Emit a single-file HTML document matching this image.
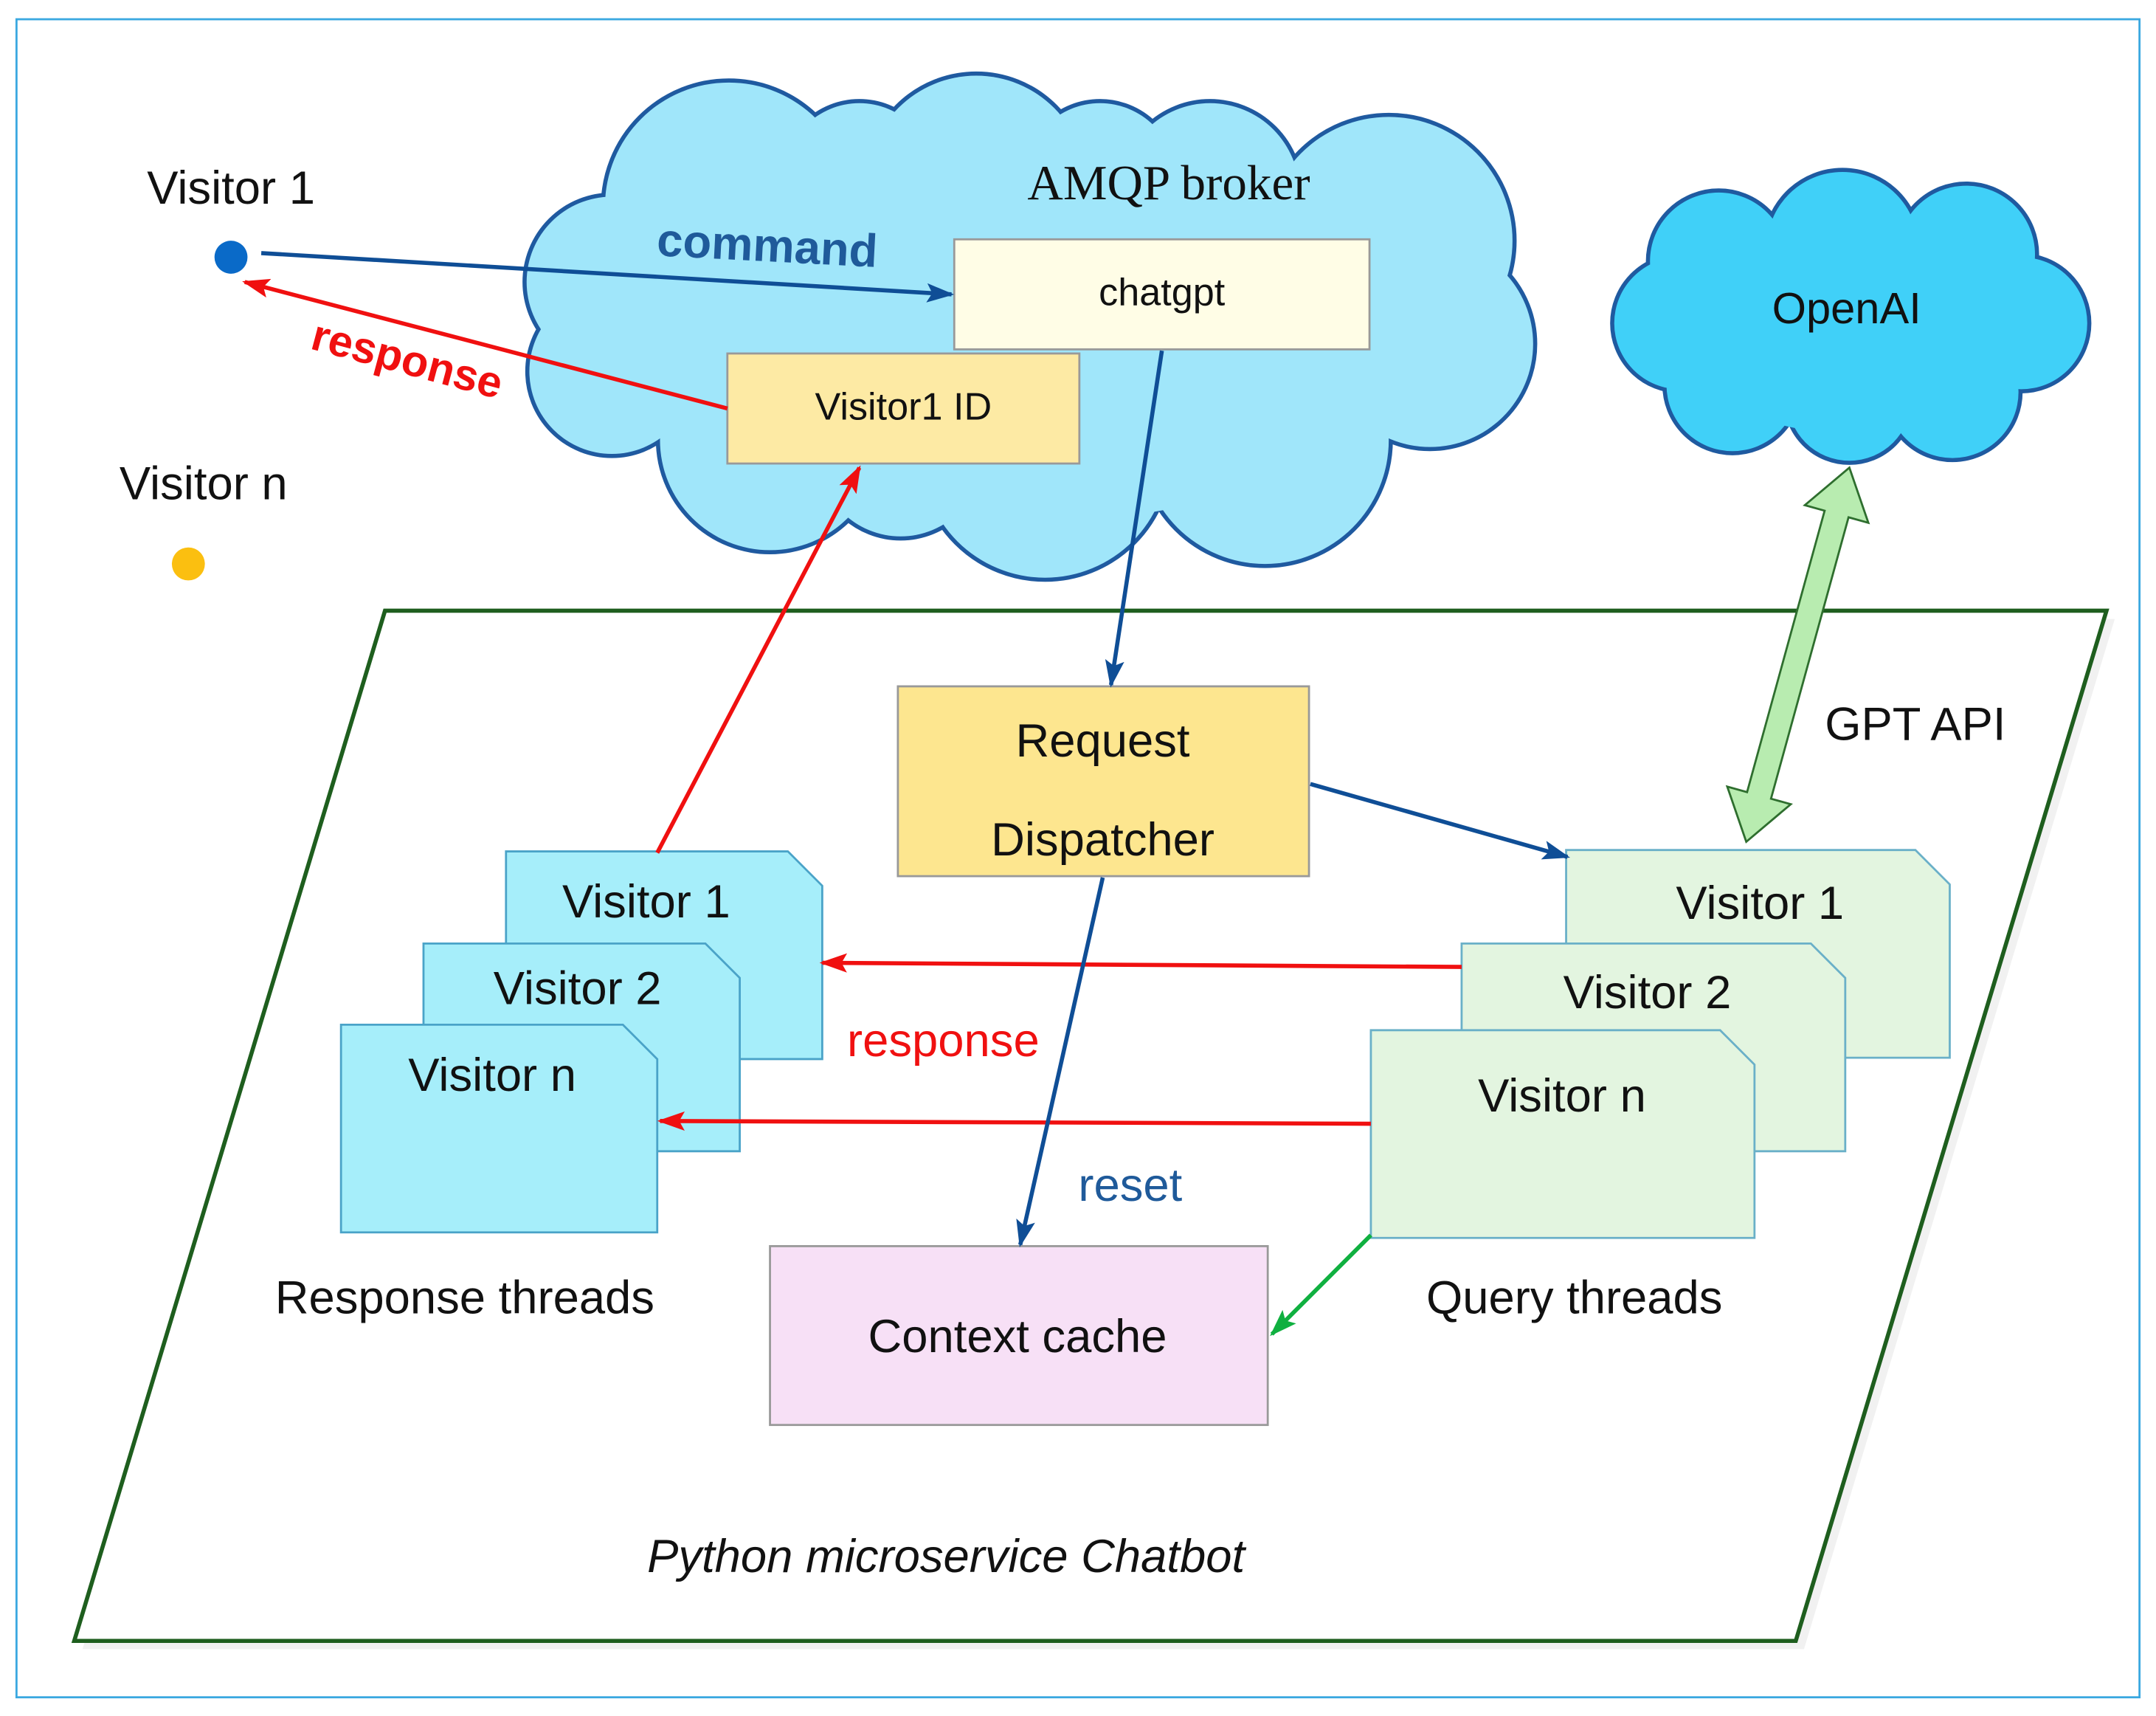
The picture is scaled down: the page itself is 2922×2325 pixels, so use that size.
<!DOCTYPE html>
<html><head><meta charset="utf-8"><style>html,body{margin:0;padding:0;background:#fff}svg{display:block}</style></head>
<body>
<svg width="2922" height="2325" viewBox="0 0 1568 1247.6" preserveAspectRatio="none" xmlns="http://www.w3.org/2000/svg" font-family="Liberation Sans, sans-serif">
<defs>
<marker id="ab" markerWidth="20" markerHeight="14" refX="18" refY="7" orient="auto" markerUnits="userSpaceOnUse" viewBox="0 0 20 14"><path d="M0,0 L20,7 L0,14 L4,7 z" fill="#0f4e96"/></marker>
<marker id="ar" markerWidth="20" markerHeight="14" refX="18" refY="7" orient="auto" markerUnits="userSpaceOnUse" viewBox="0 0 20 14"><path d="M0,0 L20,7 L0,14 L4,7 z" fill="#f01010"/></marker>
<marker id="ag" markerWidth="20" markerHeight="14" refX="18" refY="7" orient="auto" markerUnits="userSpaceOnUse" viewBox="0 0 20 14"><path d="M0,0 L20,7 L0,14 L4,7 z" fill="#10b040"/></marker>
</defs>
<rect x="0" y="0" width="1568" height="1248" fill="#fff"/>
<rect x="12" y="14" width="1544" height="1220" fill="none" stroke="#3aa8e0" stroke-width="1.5"/>
<polygon points="286,450 1538,450 1312,1199 60,1199" fill="#e8e8e8" opacity="0.6"/>
<polygon points="280,444 1532,444 1306,1193 54,1193" fill="#fff" stroke="#1e5e1e" stroke-width="3"/>
<g stroke="#1f5aa0" stroke-width="6" fill="#1f5aa0">
<circle cx="530" cy="150" r="90"/><circle cx="625" cy="130" r="55"/><circle cx="710" cy="135" r="80"/><circle cx="800" cy="130" r="55"/><circle cx="880" cy="140" r="65"/><circle cx="1010" cy="175" r="90"/><circle cx="1040" cy="250" r="75"/><circle cx="920" cy="320" r="90"/><circle cx="760" cy="330" r="90"/><circle cx="655" cy="330" r="60"/><circle cx="560" cy="320" r="80"/><circle cx="445" cy="270" r="60"/><circle cx="445" cy="205" r="62"/>
</g>
<g fill="#a0e6fa">
<circle cx="530" cy="150" r="90"/><circle cx="625" cy="130" r="55"/><circle cx="710" cy="135" r="80"/><circle cx="800" cy="130" r="55"/><circle cx="880" cy="140" r="65"/><circle cx="1010" cy="175" r="90"/><circle cx="1040" cy="250" r="75"/><circle cx="920" cy="320" r="90"/><circle cx="760" cy="330" r="90"/><circle cx="655" cy="330" r="60"/><circle cx="560" cy="320" r="80"/><circle cx="445" cy="270" r="60"/><circle cx="445" cy="205" r="62"/><ellipse cx="740" cy="240" rx="300" ry="140"/>
</g>
<g stroke="#1f5aa0" stroke-width="6" fill="#1f5aa0">
<circle cx="1250" cy="190" r="50"/><circle cx="1340" cy="180" r="55"/><circle cx="1430" cy="185" r="50"/><circle cx="1470" cy="235" r="48"/><circle cx="1420" cy="285" r="48"/><circle cx="1345" cy="290" r="45"/><circle cx="1260" cy="280" r="48"/><circle cx="1222" cy="235" r="48"/>
</g>
<g fill="#40d0f8">
<circle cx="1250" cy="190" r="50"/><circle cx="1340" cy="180" r="55"/><circle cx="1430" cy="185" r="50"/><circle cx="1470" cy="235" r="48"/><circle cx="1420" cy="285" r="48"/><circle cx="1345" cy="290" r="45"/><circle cx="1260" cy="280" r="48"/><circle cx="1222" cy="235" r="48"/><ellipse cx="1345" cy="235" rx="130" ry="80"/>
</g>
<text x="850" y="145" font-family="Liberation Serif, serif" font-size="36" text-anchor="middle" fill="#111">AMQP broker</text>
<text x="1343" y="235" font-size="32" text-anchor="middle" fill="#111">OpenAI</text>
<rect x="694" y="174" width="302" height="80" fill="#fffde6" stroke="#999" stroke-width="1.5"/>
<text x="845" y="222" font-size="28" text-anchor="middle" fill="#111">chatgpt</text>
<rect x="529" y="257" width="256" height="80" fill="#fdeaa4" stroke="#999" stroke-width="1.5"/>
<text x="657" y="305" font-size="28" text-anchor="middle" fill="#111">Visitor1 ID</text>
<rect x="653" y="499" width="299" height="138" fill="#fde68f" stroke="#999" stroke-width="1.5"/>
<text x="802" y="550" font-size="34" text-anchor="middle" fill="#111">Request</text>
<text x="802" y="622" font-size="34" text-anchor="middle" fill="#111">Dispatcher</text>
<rect x="560" y="906" width="362" height="130" fill="#f7e0f6" stroke="#999" stroke-width="1.5"/>
<text x="740" y="983" font-size="34" text-anchor="middle" fill="#111">Context cache</text>
<g fill="#a6eefa" stroke="#4aa3c8" stroke-width="1.5">
<path d="M368,619 H573 L598,644 V770 H368 Z"/>
<path d="M308,686 H513 L538,711 V837 H308 Z"/>
<path d="M248,745 H453 L478,770 V896 H248 Z"/>
</g>
<g font-size="34" text-anchor="middle" fill="#111">
<text x="470" y="667">Visitor 1</text><text x="420" y="730">Visitor 2</text><text x="358" y="793">Visitor n</text>
</g>
<g fill="#e3f5e0" stroke="#6ab0c8" stroke-width="1.5">
<path d="M1139,618 H1393 L1418,643 V769 H1139 Z"/>
<path d="M1063,686 H1317 L1342,711 V837 H1063 Z"/>
<path d="M997,749 H1251 L1276,774 V900 H997 Z"/>
</g>
<g font-size="34" text-anchor="middle" fill="#111">
<text x="1280" y="668">Visitor 1</text><text x="1198" y="733">Visitor 2</text><text x="1136" y="808">Visitor n</text>
</g>
<text x="168" y="148" font-size="34" text-anchor="middle" fill="#111">Visitor 1</text>
<circle cx="168" cy="187" r="12" fill="#0a6ac8"/>
<text x="148" y="363" font-size="34" text-anchor="middle" fill="#111">Visitor n</text>
<circle cx="137" cy="410" r="12" fill="#fbbf10"/>
<text x="558" y="190" font-size="34" text-anchor="middle" fill="#1f5a9a" font-weight="bold" transform="rotate(3 558 180)">command</text>
<text x="296" y="272" font-size="32" text-anchor="middle" fill="#f01010" font-weight="bold" transform="rotate(15 296 262)">response</text>
<text x="686" y="768" font-size="34" text-anchor="middle" fill="#f01010">response</text>
<text x="822" y="873" font-size="34" text-anchor="middle" fill="#1f5a9a">reset</text>
<text x="1393" y="538" font-size="34" text-anchor="middle" fill="#111">GPT API</text>
<text x="338" y="955" font-size="34" text-anchor="middle" fill="#111">Response threads</text>
<text x="1145" y="955" font-size="34" text-anchor="middle" fill="#111">Query threads</text>
<text x="688" y="1143" font-size="34" text-anchor="middle" fill="#111" font-style="italic">Python microservice Chatbot</text>
<g stroke-width="3" fill="none">
<line x1="190" y1="184" x2="692" y2="214" stroke="#0f4e96" marker-end="url(#ab)"/>
<line x1="529" y1="297" x2="178" y2="205" stroke="#f01010" marker-end="url(#ar)"/>
<line x1="845" y1="255" x2="808" y2="498" stroke="#0f4e96" marker-end="url(#ab)"/>
<line x1="478" y1="620" x2="625" y2="340" stroke="#f01010" marker-end="url(#ar)"/>
<line x1="953" y1="570" x2="1140" y2="623" stroke="#0f4e96" marker-end="url(#ab)"/>
<line x1="1063" y1="703" x2="598" y2="700" stroke="#f01010" marker-end="url(#ar)"/>
<line x1="997" y1="817" x2="480" y2="815" stroke="#f01010" marker-end="url(#ar)"/>
<line x1="802" y1="638" x2="742" y2="905" stroke="#0f4e96" marker-end="url(#ab)"/>
<line x1="997" y1="898" x2="925" y2="970" stroke="#10b040" marker-end="url(#ag)"/>
</g>
<polygon points="1345,340 1358.8,380.1 1344.4,376.1 1288,580.7 1302.4,584.7 1270,612 1256.2,571.9 1270.6,575.9 1327,371.3 1312.6,367.3" fill="#b8ecb0" stroke="#2e6e2e" stroke-width="1.5"/>
</svg>
</body></html>
